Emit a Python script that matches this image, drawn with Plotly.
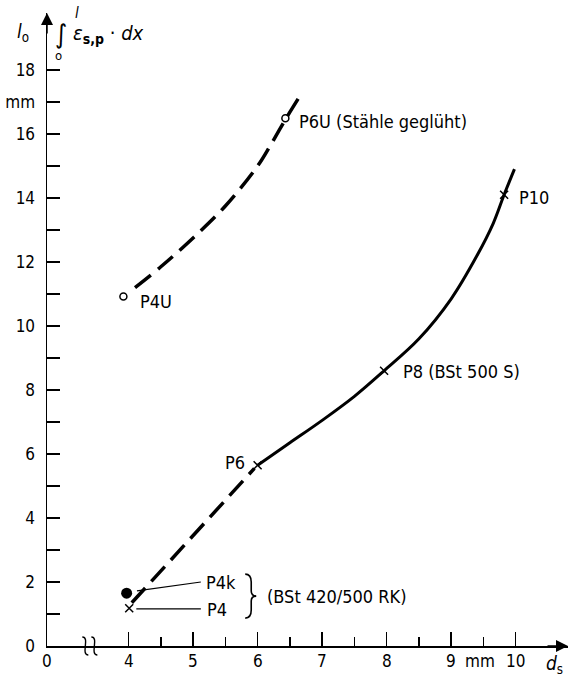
import plotly.graph_objects as go

# ---- data -------------------------------------------------------------
# dashed curve, annealed steels (P4U -> P6U)
annealed_x = [4.10, 4.50, 5.00, 5.50, 6.00, 6.20, 6.43, 6.66]
annealed_y = [11.20, 11.85, 12.75, 13.75, 15.00, 15.65, 16.45, 17.20]
annealed_pts_x = [3.92, 6.43]
annealed_pts_y = [10.92, 16.49]
annealed_names = ["P4U", "P6U (Stähle geglüht)"]

# dashed lower segment (P4 -> P6)
low_dash_x = [4.05, 5.00, 5.95]
low_dash_y = [1.35, 3.45, 5.55]

# solid curve BSt 500 S (P6 -> P10)
bst500_x = [6.00, 6.50, 7.00, 7.50, 7.96, 8.50, 9.00, 9.40, 9.65, 9.82, 9.98]
bst500_y = [5.65, 6.35, 7.05, 7.80, 8.60, 9.60, 10.85, 12.20, 13.20, 14.10, 14.90]

cross_x = [4.01, 6.00, 7.96, 9.82]
cross_y = [1.18, 5.65, 8.60, 14.10]
cross_names = ["P4", "P6", "P8 (BSt 500 S)", "P10"]

p4k_x = [3.97]
p4k_y = [1.65]

x_tickvals = [2.736, 4, 5, 6, 7, 8, 9, 10]
x_ticktext = ["0", "4", "5", "6", "7", "8", "9", "10"]
x_minor = [4.5, 5.5, 6.5, 7.5, 8.5, 9.5]
y_tickvals = list(range(0, 19))
y_ticktext = ["0", " ", "2", " ", "4", " ", "6", " ", "8", " ", "10", " ", "12", " ", "14", " ", "16", "mm", "18"]

FONT = "DejaVu Sans Condensed, DejaVu Sans, sans-serif"
K = "black"
XR = [2.736, 10.81]
YR = [0, 19.78]

fig = go.Figure()
dash = "20px,9px"
fig.add_trace(go.Scatter(x=annealed_x, y=annealed_y, mode="lines",
                         line=dict(color=K, width=3.5, dash=dash, shape="spline")))
fig.add_trace(go.Scatter(x=low_dash_x, y=low_dash_y, mode="lines",
                         line=dict(color=K, width=3.5, dash=dash)))
fig.add_trace(go.Scatter(x=bst500_x, y=bst500_y, mode="lines",
                         line=dict(color=K, width=3, shape="spline", smoothing=1.0)))
fig.add_trace(go.Scatter(x=annealed_pts_x, y=annealed_pts_y, mode="markers",
                         marker=dict(symbol="circle-open", size=7, color=K, line=dict(width=1.5))))
fig.add_trace(go.Scatter(x=cross_x, y=cross_y, mode="markers",
                         marker=dict(symbol="x-thin", size=8, color=K, line=dict(width=1.5, color=K))))
fig.add_trace(go.Scatter(x=p4k_x, y=p4k_y, mode="markers",
                         marker=dict(symbol="circle", size=11, color=K)))

ann = []
def txt(x, y, s, xanchor="left", size=18, xref="x", yref="y", yanchor="middle"):
    ann.append(dict(x=x, y=y, xref=xref, yref=yref, text=s, showarrow=False,
                    xanchor=xanchor, yanchor=yanchor, font=dict(family=FONT, size=size, color=K)))

# point labels
txt(annealed_pts_x[0] + 0.22, annealed_pts_y[0] - 0.16, annealed_names[0])
txt(annealed_pts_x[1] + 0.18, annealed_pts_y[1] - 0.09, annealed_names[1])
txt(cross_x[3] + 0.20, cross_y[3] - 0.07, cross_names[3])
txt(cross_x[2] + 0.26, cross_y[2] - 0.03, cross_names[2])
txt(cross_x[1] - 0.16, cross_y[1] + 0.07, cross_names[1], xanchor="right")
txt(5.17, 1.97, "P4k")
txt(5.19, 1.13, cross_names[0])
txt(6.11, 1.56, "(BSt 420/500 RK)")

# x tick labels (drawn just under the axis)
ylab = -0.024
for v, t in zip(x_tickvals, x_ticktext):
    txt(v, ylab, t, xanchor="center", size=17, yref="paper")
txt(9.45, ylab, "mm", xanchor="center", size=17, yref="paper")
txt(10.44, -0.03, "<i>d</i><sub>s</sub>", xanchor="left", size=19, yref="paper")

# y axis title
txt(-0.046, 19.16, "<i>l</i><sub>o</sub>", xanchor="center", size=19, xref="paper")
txt(0.012, 19.12, "<i>∫</i>", xanchor="left", size=26, xref="paper")
txt(0.057, 19.78, "<i>l</i>", xanchor="center", size=15, xref="paper")
txt(0.022, 18.45, "o", xanchor="center", size=13, xref="paper")
txt(0.047, 19.12, "<i>ε</i><sub><b>s,p</b></sub> · <i>dx</i>", xanchor="left", size=20, xref="paper")

# axis arrow heads
for (xa, ya, dx, dy) in [(1, 0, -22, 0), (0, 1, 0, 22)]:
    ann.append(dict(x=xa, y=ya, xref="paper", yref="paper", ax=dx, ay=dy, text="",
                    showarrow=True, arrowhead=2, arrowsize=1.6, arrowwidth=1.5, arrowcolor=K))

def px(xd):
    return (xd - XR[0]) / (XR[1] - XR[0])

shapes = []
# leader lines
shapes.append(dict(type="line", x0=4.13, y0=1.72, x1=5.12, y1=2.0, line=dict(color=K, width=1.2)))
shapes.append(dict(type="line", x0=4.12, y0=1.16, x1=5.12, y1=1.16, line=dict(color=K, width=1.2)))
# brace
shapes.append(dict(type="path", xsizemode="pixel", ysizemode="pixel", xanchor=5.87, yanchor=1.56,
                   path="M -4,22 Q 2,22 2,14 L 2,5 Q 2,0 7,0 Q 2,0 2,-5 L 2,-14 Q 2,-22 -4,-22",
                   line=dict(color=K, width=1.6)))
# axis break marks
for xa in (3.33, 3.47):
    shapes.append(dict(type="path", xref="paper", yref="paper", xsizemode="pixel", ysizemode="pixel",
                       xanchor=px(xa), yanchor=0,
                       path="M 3,-9 C -5,-9 5,9 -3,9", line=dict(color=K, width=1.4)))

fig.update_layout(
    width=569, height=677, autosize=False,
    margin=dict(l=47, r=1, t=13, b=31),
    plot_bgcolor="white", paper_bgcolor="white",
    showlegend=False, hovermode=False,
    font=dict(family=FONT, size=17, color=K),
    annotations=ann, shapes=shapes,
    xaxis=dict(range=XR, showgrid=False, zeroline=False,
               showline=True, linecolor=K, linewidth=1.5,
               tickmode="array", tickvals=x_tickvals, showticklabels=False,
               ticks="inside", ticklen=14, tickwidth=1.5, tickcolor=K,
               minor=dict(tickmode="array", tickvals=x_minor, ticks="inside", ticklen=9,
                          tickwidth=1.5, tickcolor=K, showgrid=False)),
    yaxis=dict(range=YR, showgrid=False, zeroline=False,
               showline=True, linecolor=K, linewidth=1.5,
               tickmode="array", tickvals=y_tickvals, ticktext=y_ticktext,
               ticks="inside", ticklen=13, tickwidth=1.5, tickcolor=K,
               tickfont=dict(family=FONT, size=17), ticklabelstandoff=7),
)

fig.write_html("out.html", config={"displayModeBar": False, "staticPlot": True},
               post_script="document.body.style.margin='0';document.body.style.padding='0';")
